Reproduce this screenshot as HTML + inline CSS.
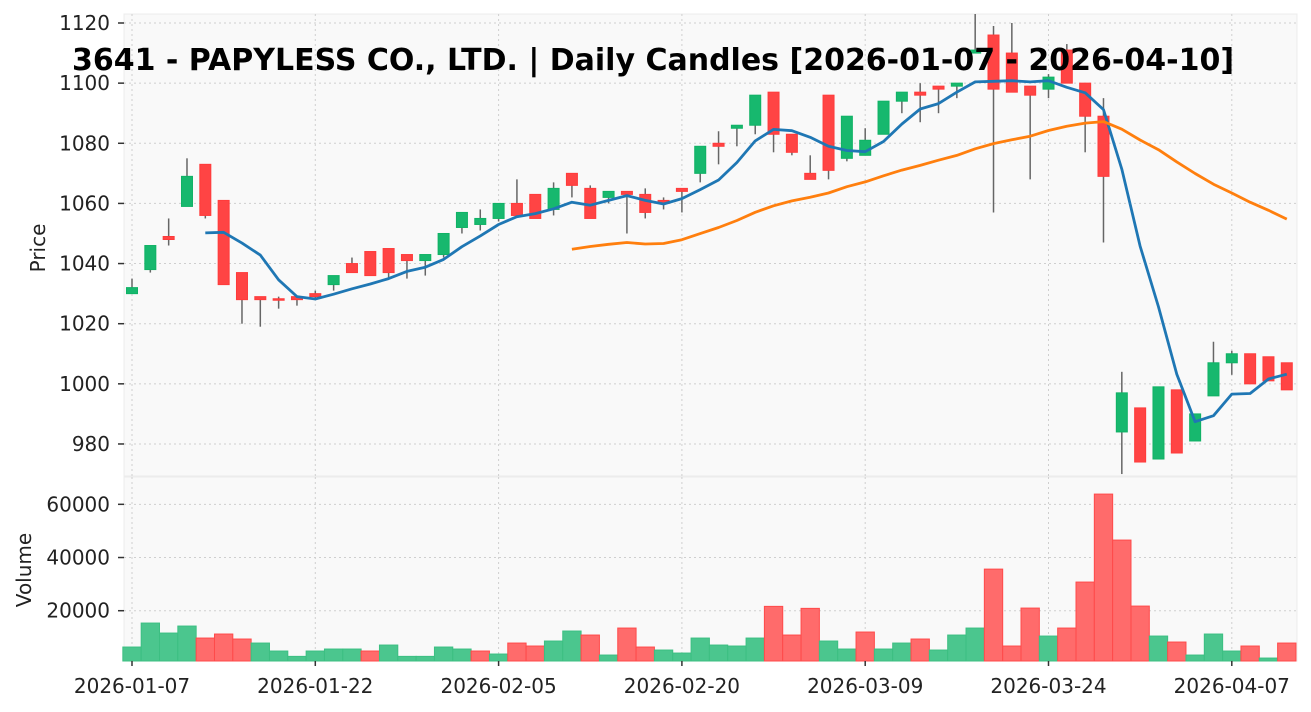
<!DOCTYPE html>
<html><head><meta charset="utf-8"><style>
html,body{margin:0;padding:0;background:#fff;}
svg{display:block;font-family:"DejaVu Sans","Liberation Sans",sans-serif;}
</style></head><body>
<svg id="chart" width="1311" height="712" viewBox="0 0 1311 712">
  <rect x="124" y="14" width="1173" height="462" fill="#f9f9f9" stroke="#ececec"/>
  <rect x="124" y="477" width="1173" height="184" fill="#f9f9f9" stroke="#ececec"/>
  <g id="grid"></g>
  <g id="vol"></g>
  <g id="candles"></g>
  <g id="ma"></g>
  <g id="axes"></g>
  <text x="653" y="70" text-anchor="middle" font-size="30" font-weight="bold" fill="#000">3641 - PAPYLESS CO., LTD. | Daily Candles [2026-01-07 - 2026-04-10]</text>
  <text transform="translate(45,248) rotate(-90)" text-anchor="middle" font-size="20" fill="#222">Price</text>
  <text transform="translate(31,570) rotate(-90)" text-anchor="middle" font-size="20" fill="#222">Volume</text>
</svg>
<script>
const opens  = [1030,1038,1049,1059,1073,1061,1037,1029,1028.3,1029,1030,1033,1040,1044,1045,1043,1041,1043,1052,1053,1055,1060,1063,1058,1070,1065,1062,1064,1063,1061,1065,1070,1080,1085,1086,1097,1083,1070,1096,1075,1076,1083,1094,1097,1099,1099,1110,1116,1110,1099,1098,1111,1100,1089,984,992,975,998,981,996,1007,1010,1009,1007];
const highs  = [1035,1046,1055,1075,1073,1061,1037,1029,1029,1029,1031,1036,1042,1044,1045,1043,1043,1050,1057,1058,1060,1068,1063,1067,1070,1066,1064,1064,1065,1062,1065,1079,1084,1086,1096,1097,1083,1076,1096,1089,1085,1094,1097,1100,1099,1100,1124,1119,1120,1099,1103,1113,1100,1095,1004,992,999,998,990,1014,1011,1010,1009,1007];
const lows   = [1030,1037,1046,1059,1055,1033,1020,1019,1025,1026,1028.5,1031,1037,1036,1035,1035,1036,1042,1050,1051,1054,1056,1055,1056,1062,1055,1060,1050,1055,1058,1057,1067,1073,1079,1083,1077,1076,1068,1068,1074,1076,1083,1090,1087,1090,1095,1110,1057,1097,1068,1095,1100,1077,1047,970,974,975,977,981,996,1003,1000,1001,998];
const closes = [1032,1046,1048,1069,1056,1033,1028,1028,1028,1028,1029,1036,1037,1036,1037,1041,1043,1050,1057,1055,1060,1056,1055,1065,1066,1055,1064,1063,1057,1060,1064,1079,1079,1086,1096,1083,1077,1068,1071,1089,1081,1094,1097,1096,1098,1100,1111,1098,1097,1096,1102,1100,1089,1069,997,974,999,977,990,1007,1010,1000,1001,998];
const volumes = [6340,15360,11600,14230,9720,11230,9350,7840,4840,2830,4840,5590,5590,4840,7090,2830,2830,6340,5590,4840,3710,7840,6720,8600,12360,10850,3330,13480,6340,5210,4080,9720,7090,6720,9720,21630,10850,20880,8600,5590,11980,5590,7840,9350,5210,10850,13480,35640,6720,20990,10470,13480,30770,63850,46560,21740,10470,8220,3330,11230,4840,6720,2200,7840];
const xTickIdx = [0,10,20,30,40,50,60];
const xTickLabels = ["2026-01-07","2026-01-22","2026-02-05","2026-02-20","2026-03-09","2026-03-24","2026-04-07"];
const priceTicks = [980,1000,1020,1040,1060,1080,1100,1120];
const volTicks = [20000,40000,60000];

const NS="http://www.w3.org/2000/svg";
const X=i=>132+i*18.33;
const PY=p=>23+(1120-p)*3.007;
const VY=v=>663.9-v/376;
function mk(tag,attrs,parent){const e=document.createElementNS(NS,tag);for(const k in attrs)e.setAttribute(k,attrs[k]);document.getElementById(parent).appendChild(e);return e;}

xTickIdx.forEach((idx,k)=>{
  const x=X(idx);
  let g=mk('line',{x1:x,x2:x,y1:14,y2:476,stroke:'#cfcfcf','stroke-dasharray':'2,3'},'grid');
  
  
  g=mk('line',{x1:x,x2:x,y1:477,y2:661,stroke:'#cfcfcf','stroke-dasharray':'2,3'},'grid');
  
  
  const t=mk('line',{x1:x,x2:x,y1:661,y2:666,stroke:'#333','stroke-width':1.5},'axes');
  
  
  const l=mk('text',{x:x,y:693,'text-anchor':'middle','font-size':20,fill:'#222'},'axes');
  l.textContent=xTickLabels[k];
  
  
});
priceTicks.forEach(p=>{
  const y=PY(p);
  const g=mk('line',{x1:124,x2:1297,y1:y,y2:y,stroke:'#cfcfcf','stroke-dasharray':'2,3'},'grid');
  
  
  const t=mk('line',{x1:118,x2:124,y1:y,y2:y,stroke:'#333','stroke-width':1.5},'axes');
  
  
  const l=mk('text',{x:110,y:y+7,'text-anchor':'end','font-size':20,fill:'#222'},'axes');
  l.textContent=p;
  
  
});
volTicks.forEach(v=>{
  const y=VY(v);
  const g=mk('line',{x1:124,x2:1297,y1:y,y2:y,stroke:'#cfcfcf','stroke-dasharray':'2,3'},'grid');
  
  
  const t=mk('line',{x1:118,x2:124,y1:y,y2:y,stroke:'#333','stroke-width':1.5},'axes');
  
  
  const l=mk('text',{x:110,y:y+7,'text-anchor':'end','font-size':20,fill:'#222'},'axes');
  l.textContent=v;
  
  
});

volumes.forEach((v,i)=>{
  const up = i===0 ? closes[0]>=opens[0] : closes[i]>=closes[i-1];
  const y=Math.max(VY(v),477);
  const r=mk('rect',{x:X(i)-9.16,y:y,width:18.33,height:Math.max(0,661-y),fill:up?'#4bc68e':'#ff6b6b',stroke:up?'#3cbf82':'#ff4a4a','stroke-width':1},'vol');
  
  
});

opens.forEach((o,i)=>{
  const c=closes[i],up=c>=o,x=X(i);
  const w=mk('line',{x1:x,x2:x,y1:Math.max(PY(highs[i]),14),y2:PY(lows[i]),stroke:'#666','stroke-width':1.5},'candles');
  
  
  const top=PY(Math.max(o,c)),bot=PY(Math.min(o,c));
  const b=mk('rect',{x:x-5.5,y:top,width:11,height:Math.max(1.5,bot-top),fill:up?'#17b86e':'#ff4444',stroke:up?'#10b265':'#ff3b3b','stroke-width':1},'candles');
  
  
});

function ma(n){const out=[];for(let i=n-1;i<closes.length;i++){let s=0;for(let j=i-n+1;j<=i;j++)s+=closes[j];out.push([i,s/n]);}return out;}
[[5,'#1f77b4','ma5-line'],[25,'#ff7f0e','ma25-line']].forEach(([n,col,name])=>{
  const pts=ma(n).map(([i,v])=>X(i).toFixed(1)+','+PY(v).toFixed(1)).join(' ');
  const p=mk('polyline',{points:pts,fill:'none',stroke:col,'stroke-width':2.8,'stroke-linejoin':'round'},'ma');
  
  
});
</script>
</body></html>
